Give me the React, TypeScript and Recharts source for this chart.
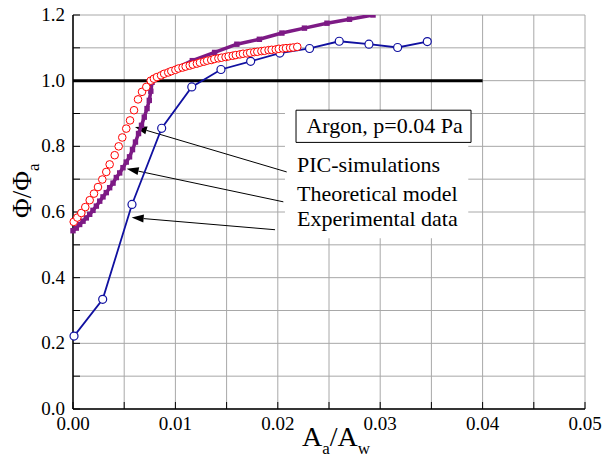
import {
  LineChart,
  Line,
  XAxis,
  YAxis,
  CartesianGrid,
  ReferenceLine,
  ReferenceArea,
  ReferenceDot,
} from 'recharts';

// PIC-simulations (red open circles)
const picX = [
  0.00007, 0.00042, 0.00081, 0.0012, 0.00163, 0.00205, 0.00244, 0.00286, 0.00325, 0.00358,
  0.00407, 0.00446, 0.00481, 0.0052, 0.00557, 0.00596, 0.00635, 0.00674, 0.00716, 0.00759,
  0.0079, 0.0082, 0.0086, 0.0089, 0.0093, 0.0096, 0.01, 0.0103, 0.0107, 0.011,
  0.0114, 0.0117, 0.0121, 0.0124, 0.0128, 0.0131, 0.0135, 0.0138, 0.0142, 0.0145,
  0.0149, 0.0152, 0.0156, 0.0159, 0.0163, 0.0166, 0.017, 0.0173, 0.0177, 0.018,
  0.0184, 0.0187, 0.0191, 0.0194, 0.0198, 0.0201, 0.0205, 0.0208, 0.0212, 0.0215, 0.0219,
];
const picY = [
  0.57, 0.583, 0.597, 0.615, 0.636, 0.656, 0.676, 0.699, 0.722, 0.745,
  0.773, 0.8, 0.827, 0.854, 0.879, 0.91, 0.943, 0.966, 0.981, 1.0,
  1.006, 1.011, 1.016, 1.021, 1.025, 1.029, 1.033, 1.037, 1.04, 1.043,
  1.046, 1.049, 1.052, 1.055, 1.058, 1.061, 1.063, 1.066, 1.068, 1.07,
  1.072, 1.074, 1.076, 1.078, 1.08, 1.082, 1.083, 1.085, 1.087, 1.088,
  1.09, 1.091, 1.093, 1.094, 1.095, 1.097, 1.098, 1.099, 1.1, 1.101, 1.103,
];

// Theoretical model (purple squares)
const theoX = [
  0, 0.00032, 0.00065, 0.00098, 0.0013, 0.00163, 0.00195, 0.00228, 0.00261, 0.00293,
  0.00325, 0.00358, 0.00391, 0.00423, 0.00456, 0.00488, 0.0052, 0.00552, 0.00581, 0.0061,
  0.0064, 0.00669, 0.00696, 0.00723, 0.00745, 0.0076, 0.00772,
  0.0095, 0.01165, 0.01383, 0.016, 0.0182, 0.0204, 0.0226, 0.0248, 0.027, 0.0293,
];
const theoY = [
  0.543, 0.551, 0.562, 0.572, 0.582, 0.593, 0.605, 0.618, 0.633, 0.646,
  0.659, 0.674, 0.688, 0.705, 0.719, 0.735, 0.752, 0.768, 0.79, 0.813,
  0.839, 0.864, 0.889, 0.915, 0.94, 0.968, 0.995,
  1.03, 1.061, 1.086, 1.111, 1.126, 1.145, 1.16, 1.175, 1.187, 1.2,
];

// Experimental data (blue open circles)
const expX = [0.0001, 0.0029, 0.00576, 0.00866, 0.0116, 0.01445, 0.01735, 0.0202, 0.0231, 0.026, 0.0289, 0.0317, 0.0346];
const expY = [0.222, 0.334, 0.623, 0.855, 0.981, 1.034, 1.059, 1.084, 1.098, 1.12, 1.111, 1.101, 1.119];

const xTicks = [0, 0.005, 0.01, 0.015, 0.02, 0.025, 0.03, 0.035, 0.04, 0.045, 0.05];
const yTicks = [0, 0.1, 0.2, 0.3, 0.4, 0.5, 0.6, 0.7, 0.8, 0.9, 1.0, 1.1, 1.2];

const legendLabels = ['PIC-simulations', 'Theoretical model', 'Experimental data'];
const boxLabel = 'Argon, p=0.04 Pa';

const FONT = 'Liberation Serif';

const zip = (xs: number[], ys: number[]) => xs.map((x, i) => ({ x, y: ys[i] }));
const picData = zip(picX, picY);
const theoData = zip(theoX, theoY);
const expData = zip(expX, expY);

const Arrow = (props: any) => {
  const { x1, y1, x2, y2 } = props;
  const a = Math.atan2(y2 - y1, x2 - x1);
  const len = 12;
  const w = 4;
  const bx = x2 - len * Math.cos(a);
  const by = y2 - len * Math.sin(a);
  const px = -Math.sin(a) * w;
  const py = Math.cos(a) * w;
  return (
    <g>
      <line x1={x1} y1={y1} x2={bx} y2={by} stroke="#000" strokeWidth={1} />
      <polygon points={`${x2},${y2} ${bx + px},${by + py} ${bx - px},${by - py}`} fill="#000" />
    </g>
  );
};

const textAt = (label: string) => (p: any) => (
  <text x={p.cx} y={p.cy} fontFamily={FONT} fontSize={22} fill="#000">
    {label}
  </text>
);

const XTick = (p: any) => {
  const v: number = p.payload.value;
  if (Math.round(v / 0.005) % 2 !== 0) return <g />;
  return (
    <text x={p.x} y={430} textAnchor="middle" fontFamily={FONT} fontSize={19} fill="#000">
      {v.toFixed(2)}
    </text>
  );
};

const YTick = (p: any) => {
  const v: number = p.payload.value;
  if (Math.round(v / 0.1) % 2 !== 0) return <g />;
  return (
    <text x={65} y={p.y + 6} textAnchor="end" fontFamily={FONT} fontSize={19} fill="#000">
      {v.toFixed(1)}
    </text>
  );
};

const NoTick = () => <g />;

export default function App() {
  return (
    <div style={{ position: 'absolute', left: 0, top: 0, width: 604, height: 459, background: '#fff' }}>
      <LineChart width={604} height={459} margin={{ top: 15, right: 19, bottom: 20, left: 23 }}>
        <CartesianGrid stroke="#a8a8a8" strokeWidth={1} />
        <XAxis
          type="number"
          dataKey="x"
          domain={[0, 0.05]}
          ticks={xTicks}
          interval={0}
          tickSize={-7}
          tickLine={{ stroke: '#000', strokeWidth: 1 }}
          axisLine={{ stroke: '#000', strokeWidth: 1.5 }}
          tick={XTick}
          height={30}
          label={{
            content: () => (
              <text x={336} y={446} textAnchor="middle" fontFamily={FONT} fontSize={28} fill="#000">
                <tspan>A</tspan>
                <tspan fontSize={17} dy={8}>a</tspan>
                <tspan dy={-8}>/A</tspan>
                <tspan fontSize={17} dy={8}>w</tspan>
              </text>
            ),
          }}
        />
        <XAxis
          xAxisId="top"
          orientation="top"
          type="number"
          dataKey="x"
          domain={[0, 0.05]}
          ticks={xTicks}
          interval={0}
          tickSize={-7}
          tickLine={{ stroke: '#000', strokeWidth: 1 }}
          axisLine={{ stroke: '#000', strokeWidth: 1.5 }}
          tick={NoTick}
          height={0}
        />
        <YAxis
          type="number"
          dataKey="y"
          domain={[0, 1.2]}
          ticks={yTicks}
          interval={0}
          allowDataOverflow
          tickSize={-7}
          tickLine={{ stroke: '#000', strokeWidth: 1 }}
          axisLine={{ stroke: '#000', strokeWidth: 1.5 }}
          tick={YTick}
          width={50}
          label={{
            content: () => (
              <text x={31} y={218} transform="rotate(-90 31 218)" fontFamily={FONT} fontSize={27} fill="#000">
                <tspan>Φ/Φ</tspan>
                <tspan fontSize={17} dy={8}>a</tspan>
              </text>
            ),
          }}
        />
        <YAxis
          yAxisId="right"
          orientation="right"
          type="number"
          dataKey="y"
          domain={[0, 1.2]}
          ticks={yTicks}
          interval={0}
          tickSize={-7}
          tickLine={{ stroke: '#000', strokeWidth: 1 }}
          axisLine={{ stroke: '#000', strokeWidth: 1.5 }}
          tick={NoTick}
          width={0}
        />
        <ReferenceArea x1={0.0207} x2={0.0386} y1={0.52} y2={0.91} fill="#fff" fillOpacity={1} stroke="none" />
        <ReferenceArea x1={0.02178} x2={0.03887} y1={0.812} y2={0.91} fill="#fff" fillOpacity={1} stroke="#000" strokeWidth={1} />
        <ReferenceLine segment={[{ x: 0, y: 1 }, { x: 0.04, y: 1 }]} stroke="#000" strokeWidth={3} />
        <ReferenceLine segment={[{ x: 0.02087, y: 0.722 }, { x: 0.00605, y: 0.859 }]} shape={Arrow} />
        <ReferenceLine segment={[{ x: 0.02054, y: 0.631 }, { x: 0.00524, y: 0.732 }]} shape={Arrow} />
        <ReferenceLine segment={[{ x: 0.01973, y: 0.546 }, { x: 0.00573, y: 0.583 }]} shape={Arrow} />
        <ReferenceDot x={0.0228} y={0.84} shape={textAt(boxLabel)} />
        <ReferenceDot x={0.02188} y={0.721} shape={textAt(legendLabels[0])} />
        <ReferenceDot x={0.02188} y={0.633} shape={textAt(legendLabels[1])} />
        <ReferenceDot x={0.02188} y={0.557} shape={textAt(legendLabels[2])} />
        <Line
          data={expData}
          dataKey="y"
          stroke="#1010a0"
          strokeWidth={1.8}
          isAnimationActive={false}
          dot={{ r: 4, stroke: '#1010a0', strokeWidth: 1.2, fill: '#fff' }}
        />
        <Line
          data={theoData}
          dataKey="y"
          stroke="#7d1a85"
          strokeWidth={3.5}
          isAnimationActive={false}
          dot={(p: any) => (
            <rect key={p.index} x={p.cx - 2.7} y={p.cy - 2.7} width={5.4} height={5.4} fill="#7d1a85" />
          )}
        />
        <Line
          data={picData}
          dataKey="y"
          stroke="none"
          strokeWidth={0}
          isAnimationActive={false}
          dot={{ r: 3.8, stroke: '#ff0000', strokeWidth: 1, fill: '#fff' }}
        />
      </LineChart>
    </div>
  );
}
